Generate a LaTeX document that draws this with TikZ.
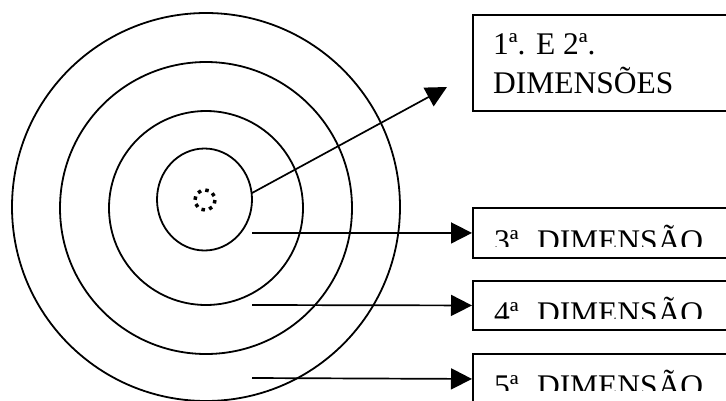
\documentclass[tikz,border=0pt]{standalone}
\usepackage{fontspec}
\setmainfont{Liberation Serif}
\usetikzlibrary{arrows.meta}
\begin{document}
\begin{tikzpicture}[x=1pt,y=-1pt,
  ring/.style={line width=1.8pt},
  dimbox/.style={draw,line width=1.9pt,minimum width=300pt,anchor=north west,inner sep=0pt},
  dimtext/.style={font=\fontsize{31.5}{39}\selectfont,inner sep=0pt},
  pointer/.style={line width=1.7pt,-{Triangle[length=21pt,width=21pt]}}]

\path[use as bounding box,clip] (0,0) rectangle (726,400);

\draw[ring] (206,207) circle[radius=194];
\draw[ring] (206,208) circle[radius=146];
\draw[ring] (206,208) circle[radius=97];
\draw[ring] (204.5,199.5) ellipse[x radius=47.5,y radius=51];
\draw[line width=3.5pt,dash pattern=on 3.5pt off 4.35pt] (205,200) circle[radius=10];

\node[dimbox,minimum height=96pt] (dim12) at (472,14) {};
\node[dimbox,minimum height=50pt] (dim3) at (472,207) {};
\node[dimbox,minimum height=49pt] (dim4) at (472,280) {};
\node[dimbox,minimum height=50pt] (dim5) at (472,353) {};

\node[dimtext,align=left,anchor=north west] (t12) at (493,33) {1ª. E 2ª.\\DIMENSÕES};

\begin{scope}
\clip (472,207) rectangle (726,246);
\node[dimtext,anchor=base west] (t3) at (494,251) {3ª. DIMENSÃO};
\end{scope}
\begin{scope}
\clip (472,280) rectangle (726,318);
\node[dimtext,anchor=base west] (t4) at (494,323) {4ª. DIMENSÃO};
\end{scope}
\begin{scope}
\clip (472,353) rectangle (726,390);
\node[dimtext,anchor=base west] (t5) at (494,396) {5ª. DIMENSÃO};
\end{scope}

\coordinate (c12) at (252,193);
\coordinate (p12) at (447,87);
\coordinate (c3) at (252,233);
\coordinate (c4) at (252,305);
\coordinate (c5) at (252,378);

\draw[pointer] (c12) -- (p12);
\draw[pointer] (c3) -- (dim3.west);
\draw[pointer] (c4) -- (dim4.west);
\draw[pointer] (c5) -- (dim5.west);

\end{tikzpicture}
\end{document}
